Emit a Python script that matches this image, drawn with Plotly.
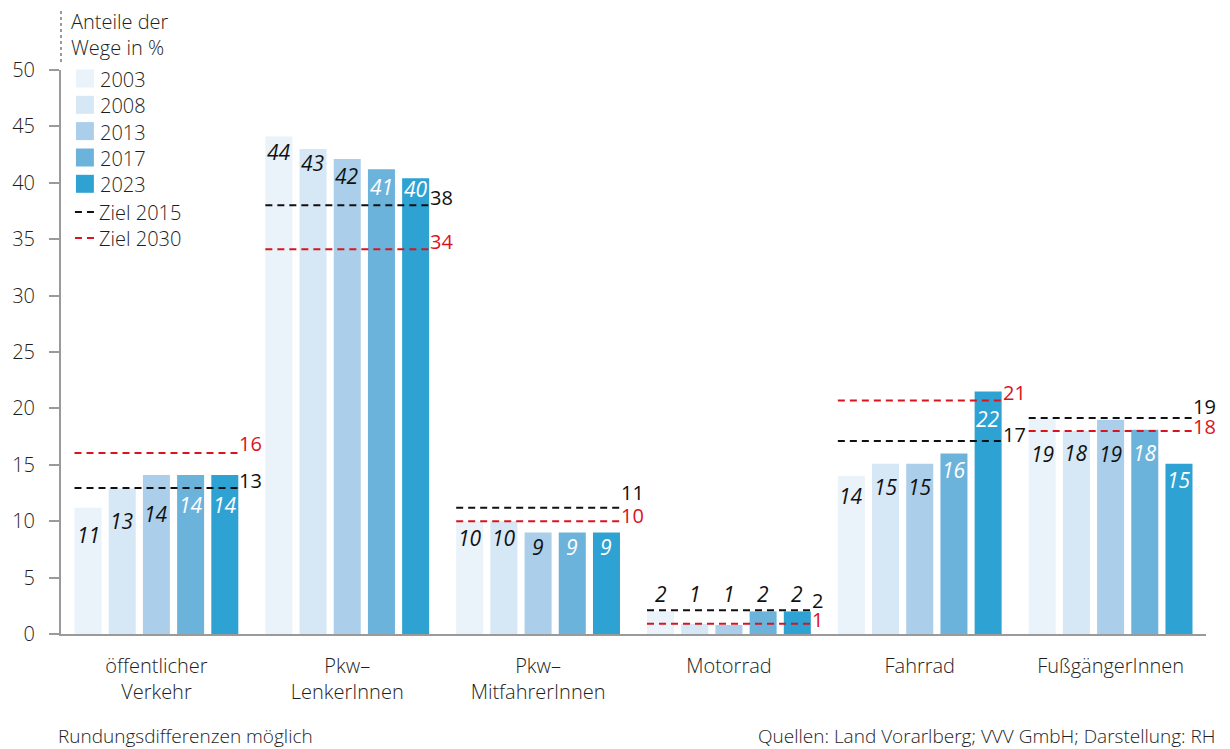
import plotly.graph_objects as go

# ---------------- data ----------------
categories = ["öffentlicher<br>Verkehr", "Pkw–<br>LenkerInnen", "Pkw–<br>MitfahrerInnen",
              "Motorrad", "Fahrrad", "FußgängerInnen"]
years = ["2003", "2008", "2013", "2017", "2023"]

v2003 = [11.2, 44.1, 10.0, 2.0, 14.0, 19.1]
v2008 = [12.9, 43.0, 10.0, 0.9, 15.1, 18.0]
v2013 = [14.1, 42.1, 9.0, 0.8, 15.1, 19.0]
v2017 = [14.1, 41.2, 9.0, 2.0, 16.0, 18.1]
v2023 = [14.1, 40.4, 9.0, 2.0, 21.5, 15.1]

lbl2003 = [11, 44, 10, 2, 14, 19]
lbl2008 = [13, 43, 10, 1, 15, 18]
lbl2013 = [14, 42, 9, 1, 15, 19]
lbl2017 = [14, 41, 9, 2, 16, 18]
lbl2023 = [14, 40, 9, 2, 22, 15]

ziel2015 = [12.95, 38.0, 11.2, 2.1, 17.1, 19.15]
ziel2030 = [16.05, 34.1, 10.0, 0.9, 20.7, 18.0]
ziel2015_lbl = [13, 38, 11, 2, 17, 19]
ziel2030_lbl = [16, 34, 10, 1, 21, 18]

# ---------------- styling ----------------
FONT = "Open Sans"
WT = 350
W, H = 1230, 749
L, R, T, B = 57, 1206, 70, 634
colors = ["#EAF2FA", "#D6E7F5", "#ABCFEA", "#6CB3DC", "#2EA2D3"]
label_colors = ["#111111", "#111111", "#111111", "#FFFFFF", "#FFFFFF"]
RED = "#D9141E"
AXIS = "#9A9A9A"
TXT = "#1E1E1E"

bargap = 0.104
slot = (1 - bargap) / 5
half_span = 2 * slot + slot * (1 - 0.21) / 2

# pixel drop of value labels below bar tops (layout only)
label_drop = [
    [27, 33, 39, 30, 30],
    [15, 14, 17, 18, 11],
    [17, 17, 15, 15, 15],
    [None] * 5,
    [20, 23, 23, 16, 28],
    [35, 22, 34, 23, 16],
]
shift2015 = [7, 8, 15, 10, 7, 11]
shift2030 = [9, 8, 6, 4, 8, 4]


def px(xp):
    return (xp - L) / (R - L)


def py(yp):
    return (B - yp) / (B - T)


def f(size, color=TXT, style="normal", weight=WT):
    return dict(family=FONT, size=size, color=color, weight=weight, style=style)


series = [v2003, v2008, v2013, v2017, v2023]
labels = [lbl2003, lbl2008, lbl2013, lbl2017, lbl2023]
xs = list(range(len(categories)))

fig = go.Figure()
for k, (yr, vals) in enumerate(zip(years, series)):
    fig.add_trace(go.Bar(x=xs, y=vals, name=yr, marker=dict(color=colors[k], line=dict(width=0)),
                         showlegend=False, hoverinfo="x+y"))


def line_xy(vals):
    lx, ly = [], []
    for i, v in enumerate(vals):
        lx += [i - half_span, i + half_span, None]
        ly += [v, v, None]
    return lx, ly


lx, ly = line_xy(ziel2015)
fig.add_trace(go.Scatter(x=lx, y=ly, mode="lines", name="Ziel 2015", showlegend=False,
                         line=dict(color="#111111", width=2, dash="7px,5px")))
lx, ly = line_xy(ziel2030)
fig.add_trace(go.Scatter(x=lx, y=ly, mode="lines", name="Ziel 2030", showlegend=False,
                         line=dict(color=RED, width=2, dash="7px,5px")))

annotations = []
# value labels on bars
for k in range(5):
    for i in xs:
        xpos = i + (k - 2) * slot
        if label_drop[i][k] is None:
            annotations.append(dict(x=xpos, y=0, xref="x", yref="y", text=str(labels[k][i]),
                                    showarrow=False, yshift=40, yanchor="middle",
                                    font=f(21, "#111111", "italic", 420)))
        else:
            annotations.append(dict(x=xpos, y=series[k][i], xref="x", yref="y", text=str(labels[k][i]),
                                    showarrow=False, yshift=-label_drop[i][k], yanchor="middle",
                                    font=f(21, label_colors[k], "italic", 420)))
# target labels
for i in xs:
    annotations.append(dict(x=i + half_span, y=ziel2015[i], xref="x", yref="y", text=str(ziel2015_lbl[i]),
                            showarrow=False, xanchor="left", xshift=-1, yshift=shift2015[i], yanchor="middle",
                            font=f(20, "#111111", weight=380)))
    annotations.append(dict(x=i + half_span, y=ziel2030[i], xref="x", yref="y", text=str(ziel2030_lbl[i]),
                            showarrow=False, xanchor="left", xshift=-1, yshift=shift2030[i], yanchor="middle",
                            font=f(20, RED, weight=420)))

# axis title
annotations.append(dict(x=px(65), y=py(6), xref="paper", yref="paper", xanchor="left", yanchor="top",
                        text="Anteile der<br>Wege in %", showarrow=False, align="left",
                        font=f(20)))

shapes = []
# dotted extension of y axis
shapes.append(dict(type="line", xref="paper", yref="paper", x0=px(57), x1=px(57), y0=py(62), y1=py(10),
                   line=dict(color=AXIS, width=2, dash="dot")))

# manual legend
row_y = [78.5, 104.8, 131.1, 157.5, 183.8]
for k, yr in enumerate(years):
    shapes.append(dict(type="rect", xref="paper", yref="paper", x0=px(72), x1=px(90),
                       y0=py(row_y[k] + 9), y1=py(row_y[k] - 9), line=dict(width=0), fillcolor=colors[k]))
    annotations.append(dict(x=px(94), y=py(row_y[k] + 1), xref="paper", yref="paper", xanchor="left",
                            yanchor="middle", text=yr, showarrow=False, font=f(20)))
for yy, col, txt in [(212, "#111111", "Ziel 2015"), (238, RED, "Ziel 2030")]:
    shapes.append(dict(type="line", xref="paper", yref="paper", x0=px(71), x1=px(91), y0=py(yy), y1=py(yy),
                       line=dict(color=col, width=2, dash="7px,5px")))
    annotations.append(dict(x=px(93), y=py(yy + 1), xref="paper", yref="paper", xanchor="left",
                            yanchor="middle", text=txt, showarrow=False, font=f(20)))

# footer
annotations.append(dict(x=px(53), y=py(736), xref="paper", yref="paper", xanchor="left", yanchor="middle",
                        text="Rundungsdifferenzen möglich", showarrow=False, borderpad=0, font=f(19)))
annotations.append(dict(x=px(1217), y=py(736), xref="paper", yref="paper", xanchor="right", yanchor="middle",
                        text="Quellen: Land Vorarlberg; VVV GmbH; Darstellung: RH", showarrow=False,
                        borderpad=0, font=f(19)))

fig.update_layout(
    width=W, height=H,
    margin=dict(l=L, r=W - R, t=T, b=H - B, pad=0),
    plot_bgcolor="white", paper_bgcolor="white",
    barmode="group", bargap=bargap, bargroupgap=0.21,
    showlegend=False,
    annotations=annotations, shapes=shapes,
    font=f(20),
    xaxis=dict(range=[-0.5, 5.5], tickvals=xs, ticktext=categories, showline=True, linecolor=AXIS,
               linewidth=2, ticks="", showgrid=False, zeroline=False, ticklabelstandoff=13,
               tickfont=f(20), fixedrange=True),
    yaxis=dict(range=[0, 50], tickvals=list(range(0, 51, 5)), showline=True, linecolor=AXIS, linewidth=2,
               ticks="outside", ticklen=10, tickwidth=2, tickcolor=AXIS, showgrid=False, zeroline=False,
               ticklabelstandoff=10, tickfont=f(20), fixedrange=True),
)

fig.write_html("out.html")
